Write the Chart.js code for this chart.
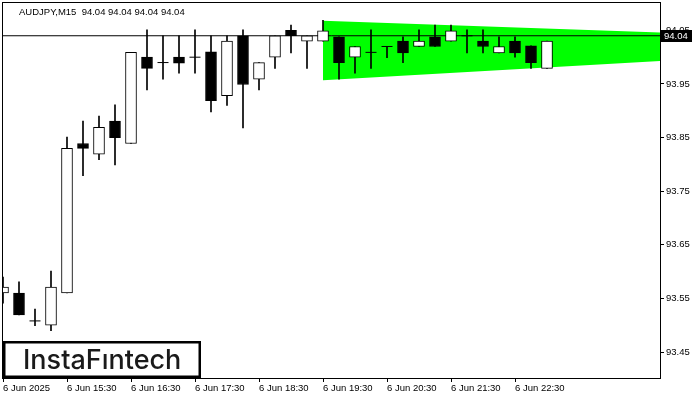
<!DOCTYPE html>
<html>
<head>
<meta charset="utf-8">
<script src="https://cdn.jsdelivr.net/npm/chart.js@4.4.0/dist/chart.umd.min.js"></script>
<style>
  html, body { margin: 0; padding: 0; background: #fff; }
  #wrap { width: 700px; height: 400px; position: relative; }
</style>
</head>
<body>
<div id="wrap"><canvas id="c"></canvas></div>
<script>
// AUDJPY M15 candles, 6 Jun 2025 from 14:30
const candleOpen  = [93.560, 93.560, 93.508, 93.500, 93.560, 93.839, 93.819, 93.881, 93.839, 94.000,
                     93.990, 94.000, 94.000, 94.010, 93.928, 94.040, 93.959, 94.000, 94.050, 94.030,
                     94.030, 94.038, 94.000, 94.009, 94.020, 94.030, 94.020, 94.038, 94.030, 94.040,
                     94.030, 94.008, 94.030, 94.021, 93.979];
const candleHigh  = [93.590, 93.581, 93.530, 93.601, 93.851, 93.881, 93.890, 93.911, 94.009, 94.051,
                     94.040, 94.040, 94.051, 94.040, 94.040, 94.051, 93.990, 94.040, 94.060, 94.040,
                     94.069, 94.038, 94.020, 94.051, 94.020, 94.038, 94.051, 94.060, 94.060, 94.051,
                     94.051, 94.038, 94.038, 94.021, 94.030];
const candleLow   = [93.541, 93.519, 93.499, 93.490, 93.560, 93.779, 93.809, 93.799, 93.839, 93.939,
                     93.959, 93.970, 93.970, 93.898, 93.910, 93.868, 93.939, 93.979, 94.008, 93.979,
                     94.030, 93.959, 93.970, 93.979, 93.999, 93.990, 94.020, 94.020, 94.030, 94.008,
                     94.008, 94.008, 94.000, 93.979, 93.979];
const candleClose = [93.571, 93.519, 93.508, 93.571, 93.830, 93.830, 93.869, 93.850, 94.009, 93.979,
                     93.990, 93.989, 94.000, 93.919, 94.030, 93.949, 93.990, 94.040, 94.040, 94.040,
                     94.049, 93.990, 94.020, 94.009, 94.020, 94.008, 94.030, 94.020, 94.049, 94.040,
                     94.020, 94.020, 94.008, 93.990, 94.030];

const lastPrice = 94.04;

// pennant (start candle index -> right edge)
const pennantX      = [20, 41.0625];
const pennantTop    = [94.068, 94.046];
const pennantBottom = [93.957, 93.993];

const priceTicks = [93.45, 93.55, 93.65, 93.75, 93.85, 93.95, 94.05];
const timeTickIndex = [0, 4, 8, 12, 16, 20, 24, 28, 32];
const timeLabels = ['6 Jun 2025', '6 Jun 15:30', '6 Jun 16:30', '6 Jun 17:30', '6 Jun 18:30',
                    '6 Jun 19:30', '6 Jun 20:30', '6 Jun 21:30', '6 Jun 22:30'];

const titleText = 'AUDJPY,M15  94.04 94.04 94.04 94.04';

const FONT = 'Liberation Sans';

const wickData = candleOpen.map((o, i) => ({ x: i, y: [candleLow[i], candleHigh[i]] }));
const bodyIdx = candleOpen.map((o, i) => i).filter(i => candleOpen[i] !== candleClose[i]);
const bodyData = bodyIdx.map(i => ({ x: i, y: [candleOpen[i], candleClose[i]] }));
const bodyColors = bodyIdx.map(i => candleClose[i] > candleOpen[i] ? '#ffffff' : '#000000');
const dojiData = candleOpen.map((o, i) => i).filter(i => candleOpen[i] === candleClose[i])
  .map(i => ({ x: i, y: candleClose[i] }));

const decor = {
  id: 'decor',
  afterDraw(chart) {
    const ctx = chart.ctx;
    const a = chart.chartArea;
    const y = chart.scales.y;
    ctx.save();
    // frame
    ctx.strokeStyle = '#000';
    ctx.lineWidth = 1;
    ctx.strokeRect(Math.floor(a.left) - 0.5, Math.floor(a.top) - 0.5,
                   Math.round(a.right - a.left) + 1, Math.round(a.bottom - a.top) + 1);
    // title
    ctx.fillStyle = '#000';
    ctx.font = '9.5px "' + FONT + '"';
    ctx.textBaseline = 'middle';
    ctx.textAlign = 'left';
    ctx.fillText(titleText, 19, 12);
    // last price tag
    const py = Math.round(y.getPixelForValue(lastPrice));
    ctx.fillStyle = '#000';
    ctx.fillRect(661, py - 6, 31, 12);
    ctx.fillStyle = '#fff';
    ctx.fillText(lastPrice.toFixed(2), 664, py + 0.5);
    // logo
    ctx.fillStyle = '#fff';
    ctx.fillRect(4, 342, 196, 35);
    ctx.strokeStyle = '#000';
    ctx.lineWidth = 2.5;
    ctx.strokeRect(4.25, 342.25, 195.5, 34.5);
    ctx.fillStyle = '#1a1a1a';
    ctx.font = '500 27px Inter';
    ctx.textBaseline = 'alphabetic';
    ctx.fillText('InstaFıntech', 23, 369, 159);
    ctx.restore();
  }
};

new Chart(document.getElementById('c'), {
  type: 'bar',
  data: {
    datasets: [
      {
        type: 'line', data: pennantX.map((x, i) => ({ x, y: pennantTop[i] })),
        borderWidth: 0, borderColor: 'rgba(0,0,0,0)', pointRadius: 0, fill: false, order: 10
      },
      {
        type: 'line', data: pennantX.map((x, i) => ({ x, y: pennantBottom[i] })),
        borderWidth: 0, borderColor: 'rgba(0,0,0,0)', pointRadius: 0,
        fill: '-1', backgroundColor: '#00ff00', order: 9
      },
      {
        type: 'line', data: [{ x: 0, y: lastPrice }, { x: 41.0625, y: lastPrice }],
        borderColor: '#000', borderWidth: 1, pointRadius: 0, order: 8
      },
      {
        data: wickData, backgroundColor: '#000', barThickness: 1, grouped: false, order: 7
      },
      {
        data: bodyData, backgroundColor: bodyColors, borderColor: '#000', borderWidth: 1,
        borderSkipped: false, barThickness: 11, grouped: false, order: 6
      },
      {
        type: 'scatter', data: dojiData, pointStyle: 'line', pointRadius: 5.5,
        borderColor: '#000', borderWidth: 1, order: 5
      }
    ]
  },
  options: {
    responsive: true,
    maintainAspectRatio: false,
    animation: false,
    layout: { autoPadding: false, padding: { left: 3, top: 3, right: 0, bottom: 0 } },
    plugins: { legend: { display: false }, tooltip: { enabled: false } },
    scales: {
      x: {
        type: 'linear', min: 0, max: 41.0625, offset: false,
        afterBuildTicks: s => { s.ticks = timeTickIndex.map(v => ({ value: v })); },
        afterFit: s => { s.height = 22; s.paddingLeft = 0; s.paddingRight = 0; },
        grid: { drawOnChartArea: false, color: '#000', tickLength: 4, offset: false },
        border: { color: '#000' },
        ticks: {
          align: 'start', padding: 1, maxRotation: 0, autoSkip: false,
          color: '#000', font: { family: FONT, size: 9.5 },
          callback: v => timeLabels[timeTickIndex.indexOf(v)] || ''
        }
      },
      y: {
        type: 'linear', position: 'right', min: 93.4015, max: 94.1011,
        afterBuildTicks: s => { s.ticks = priceTicks.map(v => ({ value: v })); },
        afterFit: s => { s.width = 40; s.paddingTop = 0; s.paddingBottom = 0; },
        grid: { drawOnChartArea: false, color: '#000', tickLength: 4 },
        border: { color: '#000' },
        ticks: {
          padding: 2, color: '#000', font: { family: FONT, size: 9.5 },
          callback: v => v.toFixed(2)
        }
      }
    }
  },
  plugins: [decor]
});
</script>
</body>
</html>
